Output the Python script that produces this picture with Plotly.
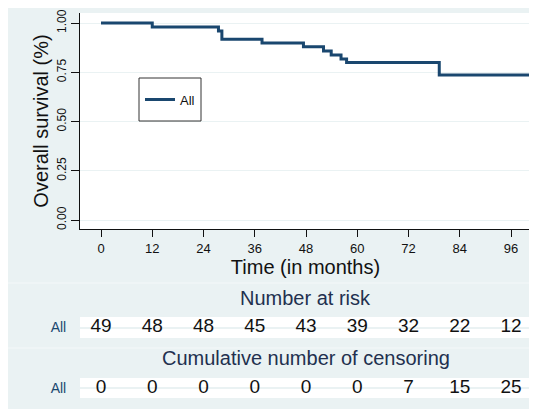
import plotly.graph_objects as go

# Kaplan-Meier estimate
months = [0, 12, 27.5, 28.3, 37.7, 47.4, 52.1, 53.9, 56.2, 57.5, 79.2, 101]
survival = [1.0, 0.980, 0.959, 0.918, 0.898, 0.879, 0.858, 0.838, 0.817, 0.799, 0.736, 0.736]

# risk table
table_months = [0, 12, 24, 36, 48, 60, 72, 84, 96]
at_risk = [49, 48, 48, 45, 43, 39, 32, 22, 12]
censored = [0, 0, 0, 0, 0, 0, 7, 15, 25]

y_ticks = [0, 0.25, 0.5, 0.75, 1.0]
y_labels = ["0.00", "0.25", "0.50", "0.75", "1.00"]

# the page body has an 8px margin, so the figure is drawn 8px in from the corner
PAGE_W, PAGE_H, OFF = 537, 409, 8
W, H = PAGE_W - OFF, PAGE_H - OFF
NAVY = "#1a476f"
REGION = "#eaf2f3"
FONT = "Liberation Sans, Arial, sans-serif"


def px_x(v):
    # screen column -> paper fraction
    return (v - OFF) / W


def px_y(v):
    # screen row (from the top) -> paper fraction
    return (H - (v - OFF)) / H


fig = go.Figure()

fig.add_trace(go.Scatter(
    x=months, y=survival,
    mode="lines",
    line=dict(color=NAVY, width=3, shape="hv"),
    name="All",
))

# number at risk row
fig.add_trace(go.Scatter(
    x=table_months, y=[0] * len(at_risk),
    text=[str(v) for v in at_risk],
    mode="text",
    textfont=dict(size=19, color="#111111", family=FONT),
    xaxis="x2", yaxis="y2",
    showlegend=False, cliponaxis=False,
))

# cumulative censoring row
fig.add_trace(go.Scatter(
    x=table_months, y=[0] * len(censored),
    text=[str(v) for v in censored],
    mode="text",
    textfont=dict(size=19, color="#111111", family=FONT),
    xaxis="x3", yaxis="y3",
    showlegend=False, cliponaxis=False,
))

x_dom = [px_x(80), px_x(531)]

band_axis = dict(
    range=[-1, 1],
    showgrid=False,
    zeroline=True, zerolinecolor=REGION, zerolinewidth=1.5,
    tickvals=[0], ticktext=["All"],
    ticks="outside", ticklen=10, tickcolor="rgba(0,0,0,0)",
    tickfont=dict(size=14, color=NAVY, family=FONT),
    fixedrange=True, automargin=False,
)

fig.update_layout(
    width=W, height=H,
    margin=dict(l=0, r=0, t=0, b=0),
    paper_bgcolor=REGION,
    plot_bgcolor="white",
    font=dict(family=FONT, color="#111111"),
    xaxis=dict(
        domain=x_dom,
        range=[-4.92, 100.68],
        tickvals=table_months,
        ticks="outside", ticklen=7, tickcolor="#111111",
        tickfont=dict(size=13),
        showline=True, linecolor="#111111", linewidth=1,
        showgrid=False, zeroline=False, automargin=False,
        title=dict(text="Time (in months)", font=dict(size=20), standoff=4),
    ),
    yaxis=dict(
        domain=[px_y(229), px_y(13)],
        range=[-0.0457, 1.0508],
        tickvals=y_ticks, ticktext=y_labels,
        tickangle=-90,
        ticks="outside", ticklen=8, tickcolor="#111111",
        tickfont=dict(size=12),
        showline=True, linecolor="#111111", linewidth=1,
        showgrid=True, gridcolor=REGION, gridwidth=1,
        zeroline=False, automargin=False,
        title=dict(text="Overall survival (%)", font=dict(size=20), standoff=1),
    ),
    xaxis2=dict(domain=x_dom, matches="x", visible=False, anchor="y2"),
    yaxis2=dict(domain=[px_y(338), px_y(317)], anchor="x2", **band_axis),
    xaxis3=dict(domain=x_dom, matches="x", visible=False, anchor="y3"),
    yaxis3=dict(domain=[px_y(398), px_y(378)], anchor="x3", **band_axis),
    legend=dict(
        x=px_x(140), y=px_y(99.5),
        xanchor="left", yanchor="middle",
        bgcolor="rgba(0,0,0,0)", borderwidth=0,
        font=dict(size=13, color="#111111"),
    ),
    showlegend=True,
)

# legend frame and faint separators between the graph panels
fig.add_shape(type="rect", xref="paper", yref="paper",
              x0=px_x(139), x1=px_x(201), y0=px_y(121), y1=px_y(78),
              fillcolor="white", line=dict(color="#333333", width=1), layer="above")
for row in (283, 348):
    fig.add_shape(type="line", xref="paper", yref="paper",
                  x0=0, x1=1, y0=px_y(row), y1=px_y(row),
                  line=dict(color="#f4f8f9", width=1), layer="below")

fig.add_annotation(text="Number at risk", xref="paper", yref="paper",
                   x=px_x(305.5), y=px_y(298), yanchor="middle", showarrow=False,
                   font=dict(size=20, color="#22304f"))
fig.add_annotation(text="Cumulative number of censoring", xref="paper", yref="paper",
                   x=px_x(305.5), y=px_y(358), yanchor="middle", showarrow=False,
                   font=dict(size=20, color="#22304f"))

fig.write_html("out.html")
